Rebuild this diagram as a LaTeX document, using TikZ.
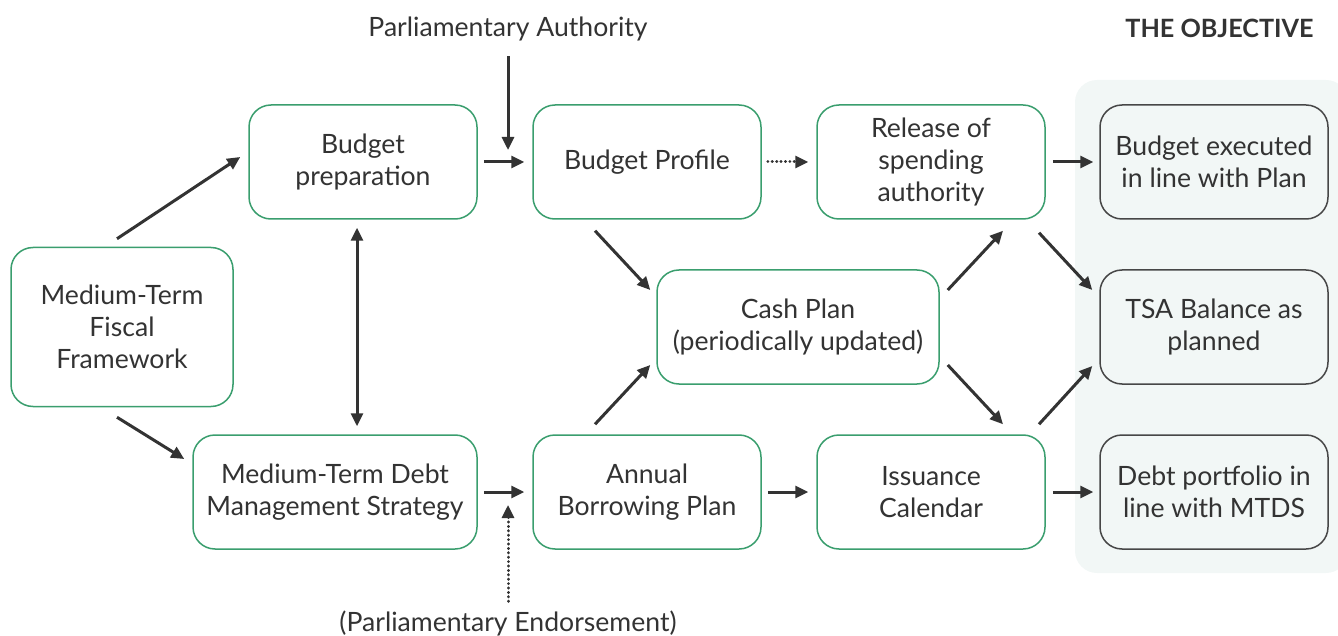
\documentclass[tikz,border=0pt]{standalone}
\usepackage{fontspec}
\setmainfont{Lato}
\usetikzlibrary{arrows.meta,calc}

\definecolor{boxgreen}{HTML}{3A9E6E}
\definecolor{inkgray}{HTML}{333333}
\definecolor{goalfill}{HTML}{F2F7F6}

\begin{document}
\begin{tikzpicture}[x=0.5pt,y=-0.5pt,
    font=\fontsize{13.3}{16}\selectfont,
    text=inkgray,
    step box/.style={draw=boxgreen, line width=0.75pt, rounded corners=11pt,
        align=center, minimum height=57pt, fill=white,
        execute at begin node={\vspace*{4pt}}},
    goal box/.style={draw=inkgray!90, line width=0.75pt, rounded corners=11pt,
        align=center, minimum width=114pt, minimum height=57pt, fill=goalfill,
        execute at begin node={\vspace*{4pt}}},
    arr/.style={draw=inkgray, line width=1.5pt, -{Triangle[length=6.5pt,width=6pt]}},
    dotarr/.style={arr, line cap=round, dash pattern=on 0.1pt off 2.1pt}]

    % Fix the page to the full canvas
    \useasboundingbox (0,0) rectangle (1338,636);

    % Shaded panel behind the objectives
    \fill[goalfill, rounded corners=11pt] (1075,80) rectangle (1348,573);
    \node[font=\fontsize{12.6}{16}\selectfont\bfseries, anchor=east, inner sep=0pt] (objective) at (1314,28) {THE OBJECTIVE};

    % Left column
    \node[step box, minimum width=111pt, minimum height=79.5pt] (mtff) at (122,327) {Medium-Term\\Fiscal\\Framework};

    % Top row
    \node[step box, minimum width=114pt] (bprep) at (363,162) {Budget\\preparation};
    \node[step box, minimum width=114pt] (bprof) at (647,162) {Budget Profile};
    \node[step box, minimum width=114pt] (release) at (931,162) {Release of\\spending\\authority};

    % Middle row
    \node[step box, minimum width=141pt] (cash) at (798,327) {Cash Plan\\(periodically updated)};

    % Bottom row
    \node[step box, minimum width=142pt] (mtds) at (335,492) {Medium-Term Debt\\Management Strategy};
    \node[step box, minimum width=114pt] (annual) at (647,492) {Annual\\Borrowing Plan};
    \node[step box, minimum width=114pt] (issuance) at (931,492) {Issuance\\Calendar};

    % Objectives
    \node[goal box] (executed) at (1214,162) {Budget executed\\in line with Plan};
    \node[goal box] (tsa) at (1214,327) {TSA Balance as\\planned};
    \node[goal box] (portfolio) at (1214,492) {Debt portfolio in\\line with MTDS};

    % Outside inputs
    \node (authority) at (508,29) {Parliamentary Authority};
    \node (endorse) at (508,623) {(Parliamentary Endorsement)};
    \coordinate (authority-end) at (508,150);
    \coordinate (endorse-end) at (508,505);

    % Arrows out of the fiscal framework
    \draw[arr] ($(mtff.north)+(-5,-8)$) -- ($(bprep.west)+(-8,-5)$);
    \draw[arr] ($(mtff.south)+(-5,10)$) -- ($(mtds.west)+(-8,-33)$);
    \draw[arr, {Triangle[length=6.5pt,width=6pt]}-{Triangle[length=6.5pt,width=6pt]}]
        ($(bprep.south)+(-6,8)$) -- ($(mtds.north)+(22,-8)$);

    % Horizontal links
    \draw[arr, shorten <=3pt, shorten >=4pt] (bprep) -- (bprof);
    \draw[dotarr, shorten <=3pt, shorten >=4pt] (bprof) -- (release);
    \draw[arr, shorten <=3.5pt, shorten >=3pt] (release) -- (executed);
    \draw[arr, shorten <=3pt, shorten >=4pt] (mtds) -- (annual);
    \draw[arr, shorten <=3pt, shorten >=4pt] (annual) -- (issuance);
    \draw[arr, shorten <=3.5pt, shorten >=3pt] (issuance) -- (portfolio);

    % Parliamentary inputs
    \draw[arr] ($(authority.south)+(0,8)$) -- (authority-end);
    \draw[dotarr] ($(endorse.north)+(0,-2)$) -- (endorse-end);

    % Into and out of the cash plan
    \draw[arr] ($(bprof.south)+(-52,11)$) -- ($(cash.west)+(-6,-37)$);
    \draw[arr] ($(annual.north)+(-52,-10)$) -- ($(cash.west)+(-6,38)$);
    \draw[arr] ($(cash.east)+(8,-37)$) -- ($(release.south)+(72,11)$);
    \draw[arr] ($(cash.east)+(8,38)$) -- ($(issuance.north)+(72,-10)$);

    % Into the TSA balance
    \draw[arr] ($(release.south)+(108,13)$) -- ($(tsa.west)+(-7,-37)$);
    \draw[arr] ($(issuance.north)+(108,-10)$) -- ($(tsa.west)+(-7,39)$);

\end{tikzpicture}
\end{document}
